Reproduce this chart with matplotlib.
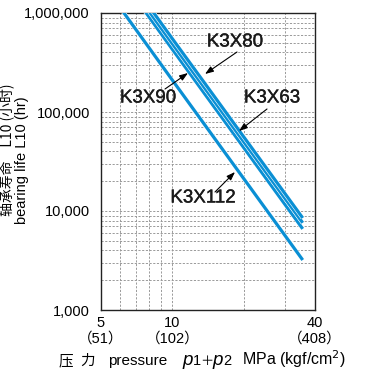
import matplotlib
matplotlib.use("Agg")
import matplotlib.pyplot as plt
import matplotlib.patheffects as pe
from matplotlib.ticker import FixedLocator, NullFormatter, LogLocator

plt.rcParams['font.family'] = ['Liberation Sans', 'Noto Sans CJK JP', 'DejaVu Sans']

# pressure p1+p2 (MPa) and bearing life L10 (hr) for each model
pressure = [5, 10, 35.5]
life_K3X112 = [2.1e6, 2.1e5, 3.2e3]
life_K3X90 = [4.3e6, 4.3e5, 6.6e3]
life_K3X63 = [4.9e6, 4.9e5, 7.6e3]
life_K3X80 = [5.5e6, 5.5e5, 8.5e3]

x_ticks = [5, 10, 40]
x_ticklabels = ["5\n（51）", "10\n（102）", "40\n（408）"]
y_ticks = [1e3, 1e4, 1e5, 1e6]
y_ticklabels = ["1,000", "10,000", "100,000", "1,000,000"]

W, H = 376, 370
blue = "#0a8fd4"

fig = plt.figure(figsize=(W / 100, H / 100), dpi=100)
ax = fig.add_axes([101 / W, 1 - 310 / H, 214 / W, 297 / H])
ax.set_xscale("log")
ax.set_yscale("log")
ax.set_xlim(5, 40)
ax.set_ylim(1e3, 1e6)

for life in (life_K3X112, life_K3X90, life_K3X63, life_K3X80):
    ax.plot(pressure, life, color=blue, lw=2.3, solid_capstyle="butt",
            path_effects=[pe.withStroke(linewidth=3.1, foreground="white")],
            zorder=3)

ax.xaxis.set_major_locator(FixedLocator(x_ticks))
ax.xaxis.set_minor_locator(FixedLocator([6, 7, 8, 9, 20, 30]))
ax.set_xticklabels(x_ticklabels, fontsize=10.5, linespacing=1.2)
ax.xaxis.set_minor_formatter(NullFormatter())
ax.yaxis.set_major_locator(FixedLocator(y_ticks))
ax.yaxis.set_minor_locator(LogLocator(base=10, subs=range(2, 10)))
ax.set_yticklabels(y_ticklabels, fontsize=10.5)
ax.yaxis.set_minor_formatter(NullFormatter())
ax.tick_params(which="both", length=0)
ax.tick_params(axis="y", pad=8)
ax.tick_params(axis="x", pad=4)

ax.grid(True, which="both", color="#9a9a9a", linestyle=(0, (2.2, 1.6)), lw=0.7)
for s in ax.spines.values():
    s.set_linewidth(1.0)
    s.set_color("#222222")


def px(x, y):
    """Top-left pixel position -> figure pixels."""
    return (x, H - y)


arrow = dict(arrowstyle="-|>,head_length=0.5,head_width=0.18", color="black", lw=0.8,
             shrinkA=0, shrinkB=0)
lab = dict(fontsize=13.5, ha="center", va="center", color="#1a1a1a",
           path_effects=[pe.withStroke(linewidth=0.25, foreground="#1a1a1a")])

callouts = [
    ("K3X80", (235, 42), (237, 52), (205, 74)),
    ("K3X90", (148, 98), (165, 89), (188, 73)),
    ("K3X63", (272, 98), (267, 109), (239, 131)),
    ("K3X112", (203, 198), (215, 192), (235, 172)),
]
for name, tpos, tail, tip in callouts:
    fig.text(tpos[0] / W, 1 - tpos[1] / H, name, **lab)
    ax.annotate("", xy=px(*tip), xycoords="figure pixels",
                xytext=px(*tail), textcoords="figure pixels", arrowprops=arrow)

fig.text(22 / W, 1 - 160 / H, "bearing life L10 (hr)", rotation=90,
         ha="center", va="center", fontsize=10.5)
fig.text(7 / W, 1 - 150 / H, "轴承寿命　L10 (小时)", rotation=90,
         ha="center", va="center", fontsize=10,
         family=["Noto Sans CJK SC", "DejaVu Sans"])

# x-axis title assembled piece by piece
base_y = 1 - 365 / H
cjk = ["Noto Sans CJK SC", "DejaVu Sans"]
fig.text(59 / W, base_y, "压", family=cjk, fontsize=10.5, va="baseline")
fig.text(80 / W, base_y, "力", family=cjk, fontsize=10.5, va="baseline")
fig.text(108 / W, base_y, "pressure", fontsize=11, va="baseline")
fig.text(182 / W, base_y, "p", fontsize=13.5, style="italic", va="baseline")
fig.text(193 / W, base_y, "1", fontsize=10.5, va="baseline")
fig.text(200 / W, base_y, "＋", family=cjk, fontsize=9.5, va="baseline")
fig.text(212 / W, base_y, "p", fontsize=13.5, style="italic", va="baseline")
fig.text(223 / W, base_y, "2", fontsize=10.5, va="baseline")
fig.text(242 / W, base_y, "MPa (kgf/cm$^{2}$)", fontsize=11.5, va="baseline")

fig.savefig("out.png", dpi=100, facecolor="white")
